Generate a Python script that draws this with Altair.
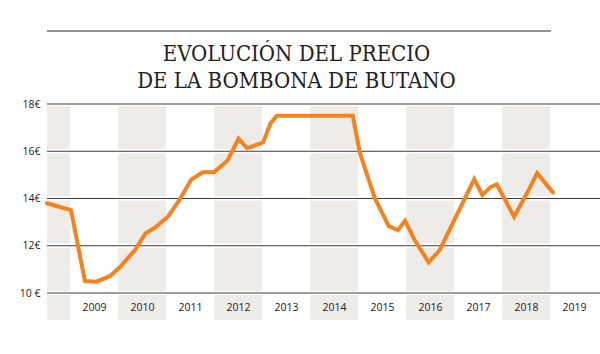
import altair as alt
import pandas as pd

# ---- data ----
periods = [2008.52, 2009.02, 2009.31, 2009.55, 2009.83, 2010.04, 2010.35, 2010.57,
           2010.79, 2011.04, 2011.28, 2011.52, 2011.76, 2012.00, 2012.28, 2012.51,
           2012.69, 2013.02, 2013.18, 2013.31, 2014.89, 2015.04, 2015.35, 2015.64,
           2015.83, 2015.98, 2016.18, 2016.47, 2016.70, 2016.97, 2017.21, 2017.42,
           2017.59, 2017.76, 2017.89, 2018.25, 2018.52, 2018.73, 2019.06]
prices = [13.80, 13.51, 10.51, 10.48, 10.71, 11.10, 11.81, 12.52,
          12.80, 13.23, 13.94, 14.79, 15.11, 15.11, 15.61, 16.53,
          16.13, 16.37, 17.19, 17.50, 17.50, 15.92, 14.01, 12.83,
          12.66, 13.06, 12.24, 11.30, 11.81, 12.95, 13.94, 14.82,
          14.15, 14.48, 14.60, 13.23, 14.22, 15.07, 14.26]
band_years = [2008, 2010, 2012, 2014, 2016, 2018]
year_label_positions = [2009.5, 2010.5, 2011.5, 2012.5, 2013.5, 2014.5,
                        2015.5, 2016.5, 2017.5, 2018.5, 2019.5]
y_ticks = [10, 12, 14, 16, 18]
title_lines = ["EVOLUCIÓN DEL PRECIO", "DE LA BOMBONA DE BUTANO"]

X_DOMAIN = [2008.52, 2020.04]
Y_DOMAIN = [10, 18]
W, H = 553, 189

line_df = pd.DataFrame({"t": periods, "v": prices})
band_df = pd.DataFrame({"year": band_years})
grid_df = pd.DataFrame({"v": y_ticks})

xscale = alt.Scale(domain=X_DOMAIN, nice=False, zero=False)
yscale = alt.Scale(domain=Y_DOMAIN, nice=False, zero=False)

x_axis = alt.Axis(values=year_label_positions, labelExpr="floor(datum.value)",
                  domain=False, ticks=False, tickSize=0, grid=False,
                  labelOverlap=False, labelFlush=False, labelBound=False,
                  labelPadding=14, labelBaseline="middle", zindex=1,
                  labelFont="Open Sans", labelFontSize=10.5, labelColor="#222",
                  title=None)
y_axis = alt.Axis(values=y_ticks,
                  labelExpr="datum.value == 10 ? '10 €' : datum.value + '€'",
                  domain=False, ticks=False, tickSize=0, grid=False,
                  labelOverlap=False, labelFlush=False,
                  labelPadding=7, labelFont="Open Sans", labelFontSize=10.5,
                  labelColor="#222", title=None)

bands = alt.Chart(band_df).transform_calculate(
    start=f"max(datum.year, {X_DOMAIN[0]})", end="datum.year + 1"
).mark_rect(color="#eeece8").encode(
    x=alt.X("start:Q", scale=xscale, axis=x_axis),
    x2="end:Q",
    y=alt.value(0),
    y2=alt.value(216),
)

grid_halo = alt.Chart(grid_df).mark_rule(color="white", strokeWidth=4).encode(
    y=alt.Y("v:Q", scale=yscale, axis=y_axis),
    x=alt.value(0), x2=alt.value(W),
)
grid = alt.Chart(grid_df).mark_rule(color="#3c3c3c", strokeWidth=1).encode(
    y=alt.Y("v:Q", scale=yscale, axis=y_axis), x=alt.value(0), x2=alt.value(W),
)

top_rule = alt.Chart(pd.DataFrame({"k": [0]})).mark_rule(color="#6e6e6e", strokeWidth=1.3).encode(
    y=alt.value(-73), x=alt.value(0), x2=alt.value(504),
)

title = alt.Chart(pd.DataFrame({"k": [0]})).mark_text(
    text=title_lines, font="DejaVu Serif Condensed", fontSize=22, color="#222",
    baseline="alphabetic", align="center", lineHeight=26.5,
).encode(x=alt.value(249.5), y=alt.value(-43))

line = alt.Chart(line_df).mark_line(color="#f5821f", strokeWidth=4, strokeCap="round").encode(
    x=alt.X("t:Q", scale=xscale, axis=x_axis),
    y=alt.Y("v:Q", scale=yscale, axis=y_axis),
)

chart = alt.layer(bands, grid_halo, grid, top_rule, title, line).properties(
    width=W, height=H,
    autosize=alt.AutoSizeParams(type="none"),
    padding={"left": 47, "top": 104, "right": 0, "bottom": 354 - 104 - H},
    background="white",
).configure_view(stroke=None).configure_axis(labelOverlap=False)

chart.save("out.html", embed_options={"renderer": "svg", "actions": False})
